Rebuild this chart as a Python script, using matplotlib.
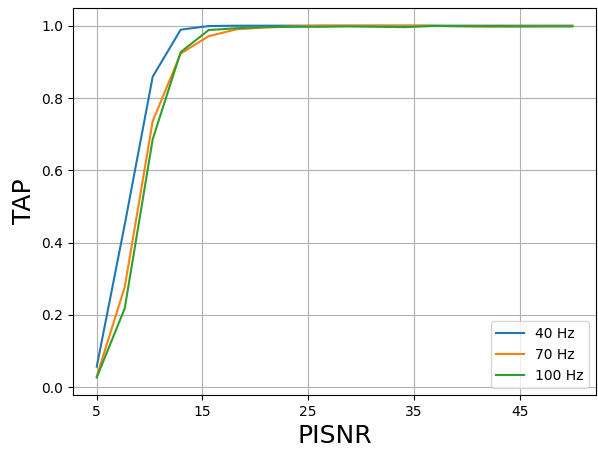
import numpy as np
import matplotlib
matplotlib.use("Agg")
import matplotlib.pyplot as plt

# PISNR sweep, 18 points from 5 to 50
pisnr = np.linspace(5, 50, 18)

tap_40 = [0.057, 0.45, 0.859, 0.989, 0.999, 1.0, 1.0, 1.0, 1.0, 1.0,
          1.0, 1.0, 1.0, 1.0, 1.0, 1.0, 1.0, 1.0]
tap_70 = [0.030, 0.277, 0.736, 0.923, 0.971, 0.990, 0.995, 0.998, 1.0, 1.0,
          1.0, 1.0, 1.0, 0.998, 0.997, 0.998, 0.999, 0.999]
tap_100 = [0.027, 0.218, 0.686, 0.927, 0.988, 0.993, 0.996, 0.997, 0.997, 0.998,
           0.997, 0.996, 0.999, 0.999, 0.999, 0.998, 0.998, 0.998]

fig, ax = plt.subplots(figsize=(5.98, 4.5), dpi=100)
ax.plot(pisnr, tap_40, label="40 Hz")
ax.plot(pisnr, tap_70, label="70 Hz")
ax.plot(pisnr, tap_100, label="100 Hz")

ax.set_xticks([5, 15, 25, 35, 45])
ax.set_xlabel("PISNR", fontsize=18)
ax.set_ylabel("TAP", fontsize=18)
ax.grid(True)
ax.legend(loc="lower right")

fig.subplots_adjust(left=0.122, right=0.997, top=0.982, bottom=0.122)
fig.savefig("out.png")
